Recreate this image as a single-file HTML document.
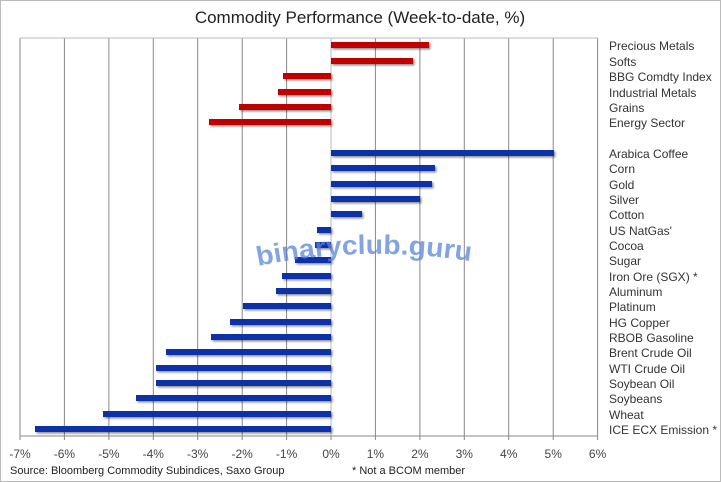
<!DOCTYPE html>
<html><head><meta charset="utf-8"><style>
body{margin:0;background:#fff}
svg{display:block;font-family:"Liberation Sans",sans-serif}
</style></head><body>
<svg width="721" height="482" viewBox="0 0 721 482">
<defs><filter id="sh" x="-5%" y="-50%" width="110%" height="200%"><feDropShadow dx="1.5" dy="1.5" stdDeviation="1" flood-color="#000" flood-opacity="0.45"/></filter>
<path id="arc" d="M258,266 Q365,244 476,262" fill="none"/></defs>
<rect x="0.5" y="0.5" width="720" height="481" fill="#fff" stroke="#bbb"/>
<text x="360" y="23" font-size="17" text-anchor="middle" fill="#222">Commodity Performance (Week-to-date, %)</text>
<g stroke="#888" stroke-width="1">
<line x1="20" y1="38" x2="20" y2="436"/>
<line x1="64.4" y1="38" x2="64.4" y2="436"/><line x1="108.9" y1="38" x2="108.9" y2="436"/><line x1="153.3" y1="38" x2="153.3" y2="436"/><line x1="197.7" y1="38" x2="197.7" y2="436"/><line x1="242.2" y1="38" x2="242.2" y2="436"/><line x1="286.6" y1="38" x2="286.6" y2="436"/><line x1="375.4" y1="38" x2="375.4" y2="436"/><line x1="419.9" y1="38" x2="419.9" y2="436"/><line x1="464.3" y1="38" x2="464.3" y2="436"/><line x1="508.7" y1="38" x2="508.7" y2="436"/><line x1="553.2" y1="38" x2="553.2" y2="436"/><line x1="597.6" y1="38" x2="597.6" y2="436"/>
</g>
<line x1="331" y1="38" x2="331" y2="436" stroke="#bbb"/>
<line x1="20" y1="38" x2="598" y2="38" stroke="#bbb"/>
<line x1="20" y1="436" x2="598" y2="436" stroke="#888"/>
<g stroke="#888">
<line x1="20" y1="436" x2="20" y2="440"/><line x1="64.4" y1="436" x2="64.4" y2="440"/><line x1="108.9" y1="436" x2="108.9" y2="440"/><line x1="153.3" y1="436" x2="153.3" y2="440"/><line x1="197.7" y1="436" x2="197.7" y2="440"/><line x1="242.2" y1="436" x2="242.2" y2="440"/><line x1="286.6" y1="436" x2="286.6" y2="440"/><line x1="331" y1="436" x2="331" y2="440"/><line x1="375.4" y1="436" x2="375.4" y2="440"/><line x1="419.9" y1="436" x2="419.9" y2="440"/><line x1="464.3" y1="436" x2="464.3" y2="440"/><line x1="508.7" y1="436" x2="508.7" y2="440"/><line x1="553.2" y1="436" x2="553.2" y2="440"/><line x1="597.6" y1="436" x2="597.6" y2="440"/>
</g>
<g font-size="12" fill="#444" text-anchor="middle">
<text x="20" y="458">-7%</text><text x="64.4" y="458">-6%</text><text x="108.9" y="458">-5%</text><text x="153.3" y="458">-4%</text><text x="197.7" y="458">-3%</text><text x="242.2" y="458">-2%</text><text x="286.6" y="458">-1%</text><text x="331" y="458">0%</text><text x="375.4" y="458">1%</text><text x="419.9" y="458">2%</text><text x="464.3" y="458">3%</text><text x="508.7" y="458">4%</text><text x="553.2" y="458">5%</text><text x="597.6" y="458">6%</text>
</g>
<g filter="url(#sh)" fill="#c00000">
<rect x="331" y="42" width="98" height="6"/>
<rect x="331" y="58" width="82" height="6"/>
<rect x="283" y="73" width="48" height="6"/>
<rect x="278" y="89" width="53" height="6"/>
<rect x="239" y="104" width="92" height="6"/>
<rect x="209" y="119" width="122" height="6"/>
</g>
<g filter="url(#sh)" fill="#0a30a8">
<rect x="331" y="150" width="223" height="6"/>
<rect x="331" y="165" width="104" height="6"/>
<rect x="331" y="181" width="101" height="6"/>
<rect x="331" y="196" width="89" height="6"/>
<rect x="331" y="211" width="31" height="6"/>
<rect x="317" y="227" width="14" height="6"/>
<rect x="315" y="242" width="16" height="6"/>
<rect x="295" y="257" width="36" height="6"/>
<rect x="282" y="273" width="49" height="6"/>
<rect x="276" y="288" width="55" height="6"/>
<rect x="243" y="303" width="88" height="6"/>
<rect x="230" y="319" width="101" height="6"/>
<rect x="211" y="334" width="120" height="6"/>
<rect x="166" y="349" width="165" height="6"/>
<rect x="156" y="365" width="175" height="6"/>
<rect x="156" y="380" width="175" height="6"/>
<rect x="136" y="395" width="195" height="6"/>
<rect x="103" y="411" width="228" height="6"/>
<rect x="35" y="426" width="296" height="6"/>
</g>
<g font-size="12" fill="#333">
<text x="609" y="50">Precious Metals</text><text x="609" y="66">Softs</text><text x="609" y="81">BBG Comdty Index</text><text x="609" y="97">Industrial Metals</text><text x="609" y="112">Grains</text><text x="609" y="127">Energy Sector</text>
<text x="609" y="158">Arabica Coffee</text><text x="609" y="173">Corn</text><text x="609" y="189">Gold</text><text x="609" y="204">Silver</text><text x="609" y="219">Cotton</text><text x="609" y="235">US NatGas'</text><text x="609" y="250">Cocoa</text><text x="609" y="265">Sugar</text><text x="609" y="281">Iron Ore (SGX) *</text><text x="609" y="296">Aluminum</text><text x="609" y="311">Platinum</text><text x="609" y="327">HG Copper</text><text x="609" y="342">RBOB Gasoline</text><text x="609" y="357">Brent Crude Oil</text><text x="609" y="373">WTI Crude Oil</text><text x="609" y="388">Soybean Oil</text><text x="609" y="403">Soybeans</text><text x="609" y="419">Wheat</text><text x="609" y="434">ICE ECX Emission *</text>
</g>
<text x="10" y="474" font-size="11" fill="#222">Source: Bloomberg Commodity Subindices, Saxo Group</text>
<text x="352" y="474" font-size="11" fill="#222">* Not a BCOM member</text>
<text font-size="27" font-weight="bold" fill="#5a85d8" fill-opacity="0.75" textLength="214" lengthAdjust="spacingAndGlyphs"><textPath href="#arc">binaryclub.guru</textPath></text>
</svg>
</body></html>
